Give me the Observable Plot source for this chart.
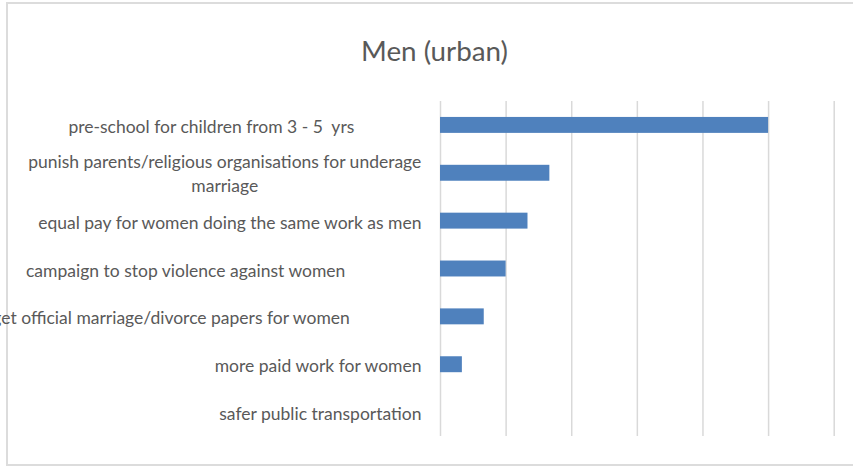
<!DOCTYPE html>
<html><head><meta charset="utf-8">
<script src="https://cdn.jsdelivr.net/npm/d3@7"></script>
<script src="https://cdn.jsdelivr.net/npm/@observablehq/plot@0.6"></script>
<style>
  html, body { margin: 0; padding: 0; background: #fff; overflow: hidden; width: 853px; height: 467px; }
  #wrap { position: relative; width: 853px; height: 467px; }
  #frame { position: absolute; left: 6px; top: 2px; width: 860px; height: 464px; border: 2px solid #dcdcdc; box-sizing: border-box; }
  #title { position: absolute; left: 7px; width: 855px; top: 33px; text-align: center; font-family: Lato, sans-serif; font-size: 27.8px; color: #595959; line-height: 36px; }
  #chart { position: absolute; left: 0; top: 95px; }
  #chart svg text { white-space: pre; }
</style>
</head><body>
<div id="wrap"><div id="frame"></div><div id="title"></div><div id="chart"></div></div>
<script>
const title = "Men (urban)";
const categories = [
  "pre-school for children from 3 - 5 yrs",
  "punish parents/religious organisations for underage marriage",
  "equal pay for women doing the same work as men",
  "campaign to stop violence against women",
  "get official marriage/divorce papers for women",
  "more paid work for women",
  "safer public transportation"
];
const tickLabels = [
  "pre-school for children from 3 - 5  yrs               ",
  "punish parents/religious organisations for underage\nmarriage",
  "equal pay for women doing the same work as men",
  "campaign to stop violence against women                 ",
  "get official marriage/divorce papers for women                ",
  "more paid work for women",
  "safer public transportation"
];
const values = [15, 5, 4, 3, 2, 1, 0];
const gridTicks = [0, 3, 6, 9, 12, 15, 18];

document.getElementById("title").textContent = title;

const data = categories.map((c, i) => ({category: c, value: values[i], label: tickLabels[i]}));
const fontSize = 17.5;
const font = "Lato, sans-serif";
const ctx = document.createElement("canvas").getContext("2d");
ctx.font = `${fontSize}px Lato`;
const multi = data.filter(d => d.label.includes("\n"));
const single = data.filter(d => !d.label.includes("\n"));
const gap = 19;

const marks = [
  Plot.ruleX(gridTicks, {x: d => d, stroke: "#d9d9d9", strokeWidth: 1.5}),
  Plot.barX(data, {x: "value", y: "category", fill: "#4F81BD"}),
  Plot.text(single, {y: "category", text: "label", frameAnchor: "left", textAnchor: "end", dx: -gap, dy: 2,
    fill: "#595959", fontSize, fontFamily: font})
];
for (const d of multi) {
  const w = Math.max(...d.label.split("\n").map(s => ctx.measureText(s).width));
  marks.push(Plot.text([d], {y: "category", text: "label", frameAnchor: "left", textAnchor: "middle",
    dx: -gap - w / 2, dy: -1, lineHeight: 1.37, fill: "#595959", fontSize, fontFamily: font}));
}

const chart = Plot.plot({
  width: 853,
  height: 372,
  marginLeft: 440,
  marginRight: 19.3,
  marginTop: 6,
  marginBottom: 31,
  style: {background: "transparent", overflow: "visible"},
  x: {domain: [0, 18], axis: null},
  y: {domain: categories, axis: null, paddingInner: 0.667, paddingOuter: 0.333, round: false},
  marks
});
document.getElementById("chart").appendChild(chart);
</script></body></html>
